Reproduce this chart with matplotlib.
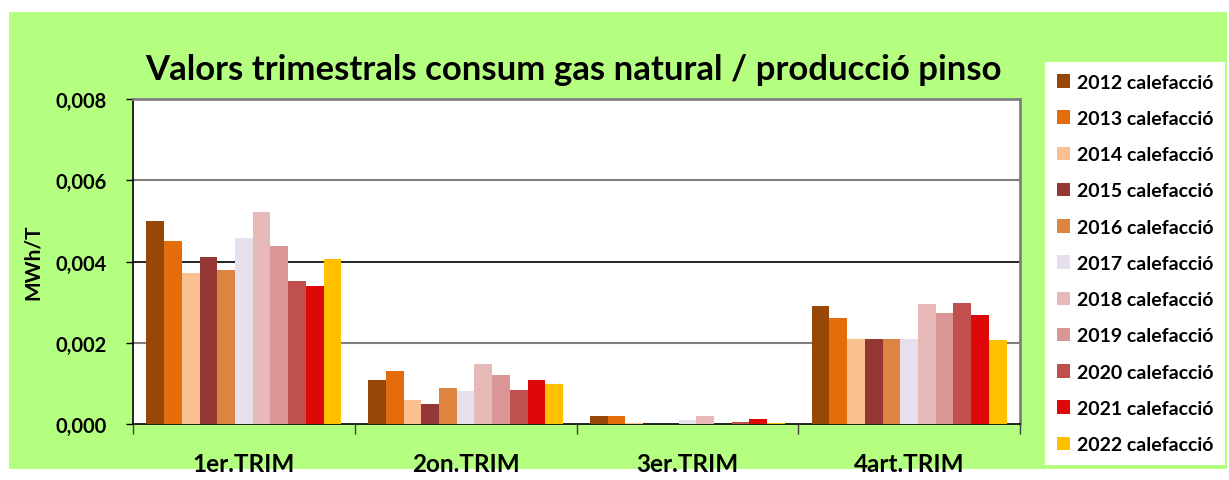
import matplotlib
matplotlib.use("Agg")
import matplotlib.pyplot as plt
import numpy as np
from matplotlib.patches import Rectangle, Patch

categories = ["1er.TRIM", "2on.TRIM", "3er.TRIM", "4art.TRIM"]
series_names = ["2012 calefacció", "2013 calefacció", "2014 calefacció", "2015 calefacció",
                "2016 calefacció", "2017 calefacció", "2018 calefacció", "2019 calefacció",
                "2020 calefacció", "2021 calefacció", "2022 calefacció"]
v2012 = [0.00500, 0.00109, 0.00019, 0.00290]
v2013 = [0.00450, 0.00130, 0.00019, 0.00260]
v2014 = [0.00371, 0.00059, 0.00003, 0.00210]
v2015 = [0.00410, 0.00049, 0.00001, 0.00210]
v2016 = [0.00379, 0.00089, 0.00001, 0.00210]
v2017 = [0.00459, 0.00082, 0.00009, 0.00210]
v2018 = [0.00523, 0.00148, 0.00019, 0.00295]
v2019 = [0.00437, 0.00121, 0.00001, 0.00274]
v2020 = [0.00351, 0.00083, 0.00004, 0.00298]
v2021 = [0.00340, 0.00108, 0.00012, 0.00269]
v2022 = [0.00405, 0.00098, 0.00003, 0.00208]
values = [v2012, v2013, v2014, v2015, v2016, v2017, v2018, v2019, v2020, v2021, v2022]
colors = ["#974706", "#E46C0A", "#FAC090", "#953735", "#DD8441", "#E6E0EC",
          "#E6B9B8", "#D99694", "#C0504D", "#DF0808", "#FFC000"]
yticks = [0.0, 0.002, 0.004, 0.006, 0.008]
ytick_labels = ["0,000", "0,002", "0,004", "0,006", "0,008"]

W, H = 1229, 481
fig = plt.figure(figsize=(W/100, H/100), dpi=100)
fig.patch.set_facecolor("white")
fig.patches.append(Rectangle((9/W, 1-470/H), (1227-9)/W, (470-13)/H,
                             transform=fig.transFigure, facecolor="#B5FF80",
                             edgecolor="none", zorder=-10))

ax = fig.add_axes([133/W, 1-425/H, 887/W, 325/H])
ax.set_zorder(2)
ax.set_facecolor("white")
n = len(values)
bw = 0.0799
x = np.arange(len(categories))
for i, (vals, c) in enumerate(zip(values, colors)):
    off = (i - (n-1)/2) * bw
    ax.bar(x + off, vals, width=bw, color=c, edgecolor="none", zorder=3)

ax.set_xlim(-0.5, len(categories)-0.5)
ax.set_ylim(0, 0.008)
ax.set_yticks(yticks)
ax.set_yticklabels(ytick_labels)
for y in [0.002, 0.006]:
    ax.axhline(y, color="#808080", lw=1.5, zorder=1)
ax.axhline(0.004, color="black", lw=1.2, zorder=1)

ax.set_xticks(x)
ax.set_xticklabels(categories)
ax.set_xticks(np.arange(-0.5, len(categories)), minor=True)
ax.tick_params(axis="x", which="major", length=0, pad=20)
ax.tick_params(axis="x", which="minor", length=7, width=1, direction="out", color="#404040")
ax.tick_params(axis="y", length=5, width=1, direction="out", pad=14)
for lab in ax.get_xticklabels():
    lab.set_fontfamily("Lato"); lab.set_fontweight("bold"); lab.set_fontsize(17.5)
for lab in ax.get_yticklabels():
    lab.set_fontfamily("Lato"); lab.set_fontweight("bold"); lab.set_fontsize(14.5)

ax.spines["left"].set_color("black")
ax.spines["bottom"].set_color("black")
ax.spines["left"].set_linewidth(1.2)
ax.spines["bottom"].set_linewidth(1.2)
ax.spines["top"].set_color("#808080")
ax.spines["right"].set_color("#808080")
ax.spines["top"].set_linewidth(2)
ax.spines["right"].set_linewidth(2)

ax.set_ylabel("MWh/T", fontfamily="Lato", fontweight="bold", fontsize=15, labelpad=9)

fig.text(573/W, 1-70/H, "Valors trimestrals consum gas natural / producció pinso",
         ha="center", va="center", fontfamily="Lato", fontweight="bold", fontsize=25)

handles = [Patch(facecolor=c, edgecolor="none") for c in colors]
leg = fig.legend(handles, series_names, loc="upper left",
                 bbox_to_anchor=(1045/W, 1-63/H), borderaxespad=0,
                 prop={"family": "Lato", "weight": "bold", "size": 14},
                 handlelength=0.7, handleheight=0.7, handletextpad=0.35,
                 labelspacing=0.99, borderpad=0.6, frameon=True, fancybox=False)
leg.get_frame().set_facecolor("white")
leg.get_frame().set_edgecolor("none")
leg.get_frame().set_alpha(1)

fig.savefig("out.png", dpi=100, facecolor=fig.get_facecolor())
